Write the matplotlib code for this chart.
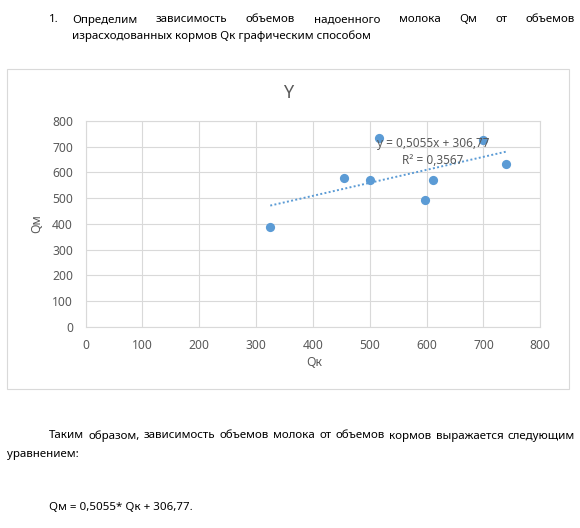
import matplotlib
matplotlib.use('Agg')
import matplotlib.pyplot as plt
from matplotlib.patches import Rectangle
import numpy as np

# data
qk = [325, 455, 500, 517, 598, 612, 700, 740]
qm = [388, 580, 572, 735, 494, 569, 726, 631]
slope = 0.5055
intercept = 306.77
r2 = 0.3567
ticks = [0, 100, 200, 300, 400, 500, 600, 700, 800]

W, H = 580, 528
plt.rcParams['font.family'] = ['Noto Sans', 'DejaVu Sans']
fig = plt.figure(figsize=(W / 100, H / 100), dpi=100)

def px(x, y):
    # pixel coords (from top-left) -> figure fraction
    return x / W, 1 - y / H

txt = '#000000'
gray = '#595959'
blue = '#5B9BD5'
doc_fs = 8.3
bl = 3.5  # offset from line centre to baseline, px

renderer = fig.canvas.get_renderer()

def doc(x, y, s):
    return fig.text(*px(x, y + bl), s, fontsize=doc_fs, color=txt, va='baseline', ha='left')

def justify(words, x0, x1, y):
    objs = [doc(x0, y, w) for w in words]
    widths = [o.get_window_extent(renderer).width for o in objs]
    gap = (x1 - x0 - sum(widths)) / (len(words) - 1)
    x = x0
    for o, w in zip(objs, widths):
        o.set_position(px(x, y + bl))
        x += w + gap

# heading paragraph
doc(49, 19, '1.')
justify('Определим зависимость объемов надоенного молока Qм от объемов'.split(), 72, 575, 19)
doc(72, 35, 'израсходованных кормов Qк графическим способом')

# chart frame
fig.patches.append(Rectangle(px(7, 389), (569 - 7) / W, (389 - 69) / H,
                             transform=fig.transFigure, fill=False,
                             edgecolor='#d9d9d9', lw=0.8))

l, b = px(85.5, 326.7)
r, t = px(540.3, 121)
ax = fig.add_axes([l, b, r - l, t - b])
ax.set_xlim(0, 800)
ax.set_ylim(0, 800)
ax.set_xticks(ticks)
ax.set_yticks(ticks)
ax.grid(True, color='#d9d9d9', lw=0.8)
ax.set_axisbelow(True)
for s in ax.spines.values():
    s.set_color('#d9d9d9')
    s.set_linewidth(0.8)
ax.tick_params(length=0, labelsize=8.7, labelcolor=gray)
ax.tick_params(axis='y', pad=9)
ax.tick_params(axis='x', pad=9)

ax.scatter(qk, qm, s=44, color=blue, zorder=3, linewidths=0)
xs = np.array([min(qk), max(qk)])
ax.plot(xs, slope * xs + intercept, color=blue, lw=1.4, ls=(0, (1, 1.2)), zorder=2)

fig.text(*px(288, 93), 'Y', fontsize=13, color=gray, ha='center', va='center')
fig.text(*px(37, 224), 'Qм', fontsize=8.7, color=gray, ha='center', va='center', rotation=90)
fig.text(*px(314, 363), 'Qк', fontsize=8.7, color=gray, ha='center', va='center')
fig.text(*px(433, 144), f'y = {slope:.4f}x + {intercept:.2f}'.replace('.', ','),
         fontsize=8.5, color=gray, ha='center', va='center')
fig.text(*px(433, 160), f'R² = {r2:.4f}'.replace('.', ','),
         fontsize=8.5, color=gray, ha='center', va='center')

# closing paragraph
justify('Таким образом, зависимость объемов молока от объемов кормов выражается следующим'.split(),
        49, 575, 435)
doc(7, 453, 'уравнением:')
doc(49, 507, f'Qм = {slope:.4f}* Qк + {intercept:.2f}.'.replace('.', ',', 2))

fig.savefig('out.png', dpi=100)
